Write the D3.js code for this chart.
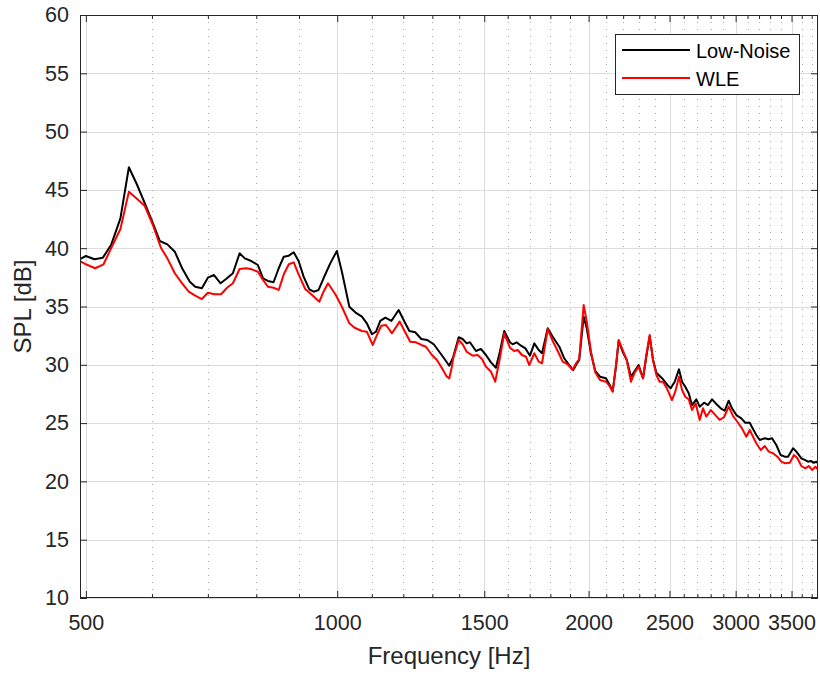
<!DOCTYPE html>
<html>
<head>
<meta charset="utf-8">
<script src="https://cdn.jsdelivr.net/npm/d3@7"></script>
<style>
  html, body { margin: 0; padding: 0; background: #ffffff; }
  svg { display: block; font-family: "Liberation Sans", Arial, Helvetica, sans-serif; }
</style>
</head>
<body>
<script>
// Measured SPL spectra (frequency in Hz, level in dB)
const lowNoiseHz = [492, 500, 512, 524, 536, 550, 563, 576, 590.5, 601.5, 613, 626, 639, 652, 666, 676, 688.5, 700, 712, 725, 736, 750, 764, 775, 789, 803.5, 815, 826, 839, 851, 863, 875, 887, 899, 911.5, 926, 937, 950, 963, 981, 999, 1013, 1034, 1051, 1070.5, 1085, 1100.5, 1113, 1126, 1142, 1161, 1184.5, 1201, 1220, 1240, 1261, 1281, 1305, 1329, 1347, 1362, 1372, 1377, 1398, 1413, 1429, 1442, 1466, 1486, 1507, 1528, 1549, 1566, 1585, 1610, 1622, 1640, 1660, 1680, 1701.5, 1722, 1743, 1759, 1787, 1811.5, 1845, 1870, 1896, 1917, 1932, 1949, 1973, 1990, 2013, 2037, 2064, 2098, 2117.5, 2137.5, 2157, 2173, 2197, 2222, 2248, 2269, 2296, 2324, 2345, 2367, 2389, 2411, 2433, 2456, 2485, 2508, 2536, 2566, 2588, 2611, 2636, 2660, 2692, 2717, 2750, 2780, 2811, 2844.5, 2879, 2911, 2943, 2970, 3006, 3047.5, 3081, 3119, 3139, 3176, 3206, 3251, 3287, 3317, 3356, 3397, 3435, 3466.5, 3515, 3547, 3596, 3630, 3663, 3690.5, 3724, 3748, 3765];
const lowNoiseDb = [39.07, 39.33, 39.05, 39.19, 40.27, 42.56, 46.94, 45.42, 43.56, 42.14, 40.62, 40.33, 39.70, 38.28, 37.13, 36.70, 36.56, 37.47, 37.70, 36.99, 37.36, 37.85, 39.56, 39.13, 38.90, 38.56, 37.42, 37.19, 37.08, 38.28, 39.27, 39.36, 39.65, 38.90, 37.56, 36.47, 36.27, 36.42, 37.42, 38.70, 39.76, 37.98, 34.98, 34.50, 34.13, 33.56, 32.62, 32.84, 33.76, 34.04, 33.76, 34.70, 33.84, 32.90, 32.79, 32.21, 32.13, 31.76, 30.99, 30.41, 29.92, 30.41, 30.69, 32.36, 32.21, 31.84, 31.93, 31.18, 31.36, 30.84, 30.21, 29.75, 31.12, 32.90, 31.93, 31.76, 31.93, 31.64, 31.41, 30.78, 31.84, 31.27, 30.99, 33.13, 32.41, 31.55, 30.56, 29.98, 29.55, 29.98, 30.41, 34.13, 33.13, 30.99, 29.47, 28.98, 28.84, 28.33, 27.75, 29.84, 32.04, 31.12, 30.41, 28.98, 29.41, 29.98, 28.84, 30.69, 32.45, 30.41, 29.32, 29.04, 28.76, 28.27, 27.98, 28.55, 29.61, 28.55, 28.12, 27.56, 26.55, 27.04, 26.41, 26.75, 26.55, 27.04, 26.64, 26.27, 26.06, 26.92, 26.27, 25.69, 25.41, 25.03, 25.03, 24.64, 23.98, 23.55, 23.70, 23.61, 23.70, 23.12, 22.26, 22.12, 22.12, 22.84, 22.55, 21.98, 21.84, 21.69, 21.75, 21.60, 21.69, 21.55];

const wleHz = [492, 500, 513, 525, 536, 550, 563, 576, 588, 601.5, 615, 626, 639, 652, 664, 676, 688.5, 700, 713, 726, 738, 750, 764, 778, 790, 803.5, 815, 826, 839, 851, 863, 875, 887, 899, 915.5, 933, 952, 963, 975, 996, 1013, 1034, 1049, 1070.5, 1085, 1103, 1116, 1129, 1144, 1163, 1188, 1204, 1223, 1242.5, 1261, 1277, 1298.5, 1316.5, 1335, 1353, 1362, 1372, 1377, 1398, 1413, 1429, 1453, 1473, 1490.5, 1507, 1528, 1546, 1566, 1585, 1610, 1629, 1645, 1664, 1683, 1698, 1722, 1743, 1759, 1787, 1811.5, 1837, 1862, 1888, 1914, 1932, 1949, 1973, 1990, 2013, 2037, 2064, 2098, 2117.5, 2137.5, 2157, 2173, 2197, 2222, 2248, 2269, 2296, 2324, 2345, 2367, 2389, 2411, 2433, 2456, 2485, 2517, 2540, 2566, 2588, 2611, 2636, 2660, 2687, 2717, 2742, 2767, 2801, 2837, 2871, 2905.5, 2943, 2979, 3020, 3053, 3090, 3119, 3147.5, 3176, 3215, 3251, 3287, 3326, 3366, 3403, 3441, 3483, 3524, 3557, 3596, 3636, 3670, 3704, 3738, 3765];
const wleDb = [38.90, 38.62, 38.28, 38.62, 39.99, 41.65, 44.85, 44.22, 43.64, 41.99, 40.04, 39.13, 37.85, 36.99, 36.27, 35.93, 35.64, 36.18, 36.05, 36.05, 36.61, 36.99, 38.22, 38.28, 38.19, 37.98, 37.27, 36.70, 36.61, 36.42, 37.76, 38.62, 38.79, 37.76, 36.50, 35.99, 35.41, 36.27, 36.99, 35.99, 34.98, 33.56, 33.18, 32.90, 32.84, 31.70, 32.56, 33.35, 33.41, 32.70, 33.70, 32.90, 31.98, 31.93, 31.70, 31.55, 30.84, 30.41, 29.70, 28.98, 28.84, 29.84, 30.56, 32.13, 31.76, 31.12, 30.78, 30.84, 30.50, 29.84, 29.41, 28.55, 30.56, 32.70, 31.47, 31.18, 31.27, 30.84, 30.69, 29.98, 30.99, 30.27, 30.13, 33.07, 32.04, 31.18, 30.27, 30.04, 29.55, 30.13, 30.50, 35.13, 33.70, 31.12, 29.36, 28.70, 28.55, 28.21, 27.69, 29.98, 32.13, 31.27, 30.41, 28.55, 29.27, 29.84, 28.84, 30.84, 32.55, 30.41, 29.13, 28.55, 28.55, 27.90, 26.98, 27.69, 28.98, 27.84, 27.26, 27.04, 26.12, 26.70, 25.27, 26.27, 25.55, 26.12, 25.69, 25.27, 25.50, 26.41, 25.61, 25.03, 24.55, 23.83, 24.41, 23.83, 23.27, 22.69, 23.04, 22.55, 22.41, 22.12, 21.69, 21.55, 21.60, 22.26, 21.98, 21.32, 21.12, 21.32, 20.98, 21.26, 21.04];

const seriesNames = ["Low-Noise", "WLE"];
const seriesColors = ["#000000", "#ff0000"];

const xDomain = [492, 3765];
const yDomain = [10, 60];
const xMajorTicks = [500, 1000, 1500, 2000, 2500, 3000, 3500];
const xMinorTicks = d3.range(600, 3800, 100).filter(f => !xMajorTicks.includes(f));
const yTicks = d3.range(10, 61, 5);

const W = 820, H = 675;
const plot = { left: 80, top: 15, right: 818, bottom: 598 };
const axisColor = "#262626";

const x = d3.scaleLog().domain(xDomain).range([plot.left, plot.right]);
const y = d3.scaleLinear().domain(yDomain).range([plot.bottom, plot.top]);

const svg = d3.select("body").append("svg")
  .attr("width", W).attr("height", H);

svg.append("rect").attr("width", W).attr("height", H).attr("fill", "#ffffff");

// Grid
const grid = svg.append("g");
grid.selectAll(".gy").data(yTicks).join("line")
  .attr("x1", plot.left).attr("x2", plot.right)
  .attr("y1", d => Math.round(y(d)) + 0.5).attr("y2", d => Math.round(y(d)) + 0.5)
  .attr("stroke", "#dcdcdc").attr("stroke-width", 1);
grid.selectAll(".gxm").data(xMinorTicks).join("line")
  .attr("x1", d => Math.round(x(d)) + 0.5).attr("x2", d => Math.round(x(d)) + 0.5)
  .attr("y1", plot.top).attr("y2", plot.bottom)
  .attr("stroke", "#a8a8a8").attr("stroke-width", 1)
  .attr("stroke-dasharray", "1,6");
grid.selectAll(".gxM").data(xMajorTicks).join("line")
  .attr("x1", d => Math.round(x(d)) + 0.5).attr("x2", d => Math.round(x(d)) + 0.5)
  .attr("y1", plot.top).attr("y2", plot.bottom)
  .attr("stroke", "#dcdcdc").attr("stroke-width", 1);

// Curves
svg.append("clipPath").attr("id", "plotclip").append("rect")
  .attr("x", plot.left).attr("y", plot.top)
  .attr("width", plot.right - plot.left).attr("height", plot.bottom - plot.top);

const line = d3.line().x(d => x(d[0])).y(d => y(d[1]));
const series = [
  d3.zip(lowNoiseHz, lowNoiseDb),
  d3.zip(wleHz, wleDb)
];
const curves = svg.append("g").attr("clip-path", "url(#plotclip)");
series.forEach((pts, i) => {
  curves.append("path")
    .attr("d", line(pts))
    .attr("fill", "none")
    .attr("stroke", seriesColors[i])
    .attr("stroke-width", 2)
    .attr("stroke-linejoin", "round");
});

// Axes (ticks point inward, box on all four sides)
const tickFont = "21.5px";
const bottomMajor = d3.axisBottom(x).tickValues(xMajorTicks).tickSize(-7)
  .tickFormat(d3.format("d")).tickPadding(17);
const bottomMinor = d3.axisBottom(x).tickValues(xMinorTicks).tickSize(-4).tickFormat("");
const topMajor = d3.axisTop(x).tickValues(xMajorTicks).tickSize(-7).tickFormat("");
const topMinor = d3.axisTop(x).tickValues(xMinorTicks).tickSize(-4).tickFormat("");
const leftAxis = d3.axisLeft(y).tickValues(yTicks).tickSize(-7).tickPadding(11);
const rightAxis = d3.axisRight(y).tickValues(yTicks).tickSize(-7).tickFormat("");

function styleAxis(g) {
  g.select(".domain").remove();
  g.selectAll(".tick line").attr("stroke", axisColor).attr("stroke-width", 1);
  g.selectAll("text").attr("fill", axisColor).style("font-size", tickFont)
    .style("font-family", "'Liberation Sans', Arial, sans-serif");
}

svg.append("g").attr("transform", `translate(0,${plot.bottom})`).call(bottomMajor).call(styleAxis);
svg.append("g").attr("transform", `translate(0,${plot.bottom})`).call(bottomMinor).call(styleAxis);
svg.append("g").attr("transform", `translate(0,${plot.top})`).call(topMajor).call(styleAxis);
svg.append("g").attr("transform", `translate(0,${plot.top})`).call(topMinor).call(styleAxis);
svg.append("g").attr("transform", `translate(${plot.left},0)`).call(leftAxis).call(styleAxis);
svg.append("g").attr("transform", `translate(${plot.right},0)`).call(rightAxis).call(styleAxis);

svg.append("rect")
  .attr("x", plot.left + 0.5).attr("y", plot.top + 0.5)
  .attr("width", plot.right - plot.left - 1).attr("height", plot.bottom - plot.top - 1)
  .attr("fill", "none").attr("stroke", axisColor).attr("stroke-width", 1);

// Axis titles
svg.append("text")
  .attr("x", (plot.left + plot.right) / 2).attr("y", 664)
  .attr("text-anchor", "middle").attr("fill", axisColor)
  .style("font-size", "24px")
  .text("Frequency [Hz]");
svg.append("text")
  .attr("transform", `translate(31,${(plot.top + plot.bottom) / 2}) rotate(-90)`)
  .attr("text-anchor", "middle").attr("fill", axisColor)
  .style("font-size", "24px")
  .text("SPL [dB]");

// Legend
const legend = svg.append("g");
legend.append("rect")
  .attr("x", 615.5).attr("y", 34.5).attr("width", 184).attr("height", 60)
  .attr("fill", "#ffffff").attr("stroke", axisColor).attr("stroke-width", 1);
seriesNames.forEach((name, i) => {
  const ly = 50 + i * 28;
  legend.append("line")
    .attr("x1", 622).attr("x2", 690).attr("y1", ly).attr("y2", ly)
    .attr("stroke", seriesColors[i]).attr("stroke-width", 2);
  legend.append("text")
    .attr("x", 696).attr("y", ly + 8)
    .attr("fill", "#000000").style("font-size", "20px")
    .text(name);
});
</script>
</body>
</html>
